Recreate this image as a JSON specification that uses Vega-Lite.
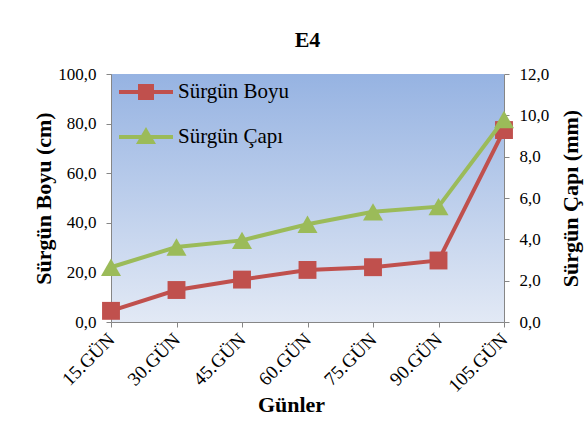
{
  "$schema": "https://vega.github.io/schema/vega-lite/v6.json",
  "width": 393,
  "height": 248,
  "autosize": {"type": "none"},
  "padding": {"left": 111, "top": 74, "right": 81, "bottom": 99},
  "background": "white",
  "title": {"text": "E4", "font": "Liberation Serif", "fontSize": 22, "fontWeight": "bold", "color": "#000000", "offset": 13, "anchor": "middle"},
  "data": {
    "values": [
      {"gun": "15.GÜN", "boy": 4.5, "cap": 2.65},
      {"gun": "30.GÜN", "boy": 12.9, "cap": 3.63},
      {"gun": "45.GÜN", "boy": 17.1, "cap": 3.95},
      {"gun": "60.GÜN", "boy": 21.0, "cap": 4.73},
      {"gun": "75.GÜN", "boy": 22.1, "cap": 5.33},
      {"gun": "90.GÜN", "boy": 24.8, "cap": 5.58},
      {"gun": "105.GÜN", "boy": 77.4, "cap": 9.8}
    ]
  },
  "encoding": {
    "x": {
      "field": "gun", "type": "ordinal", "sort": null,
      "scale": {"type": "point", "padding": 0},
      "axis": {
        "title": "Günler", "titleFont": "Liberation Serif", "titleFontSize": 22, "titleFontWeight": "bold", "titleColor": "#000000",
        "titleX": 180, "titleY": 89, "titleBaseline": "alphabetic", "titleAnchor": "middle", "titleAlign": "center",
        "labelAngle": -45, "labelAlign": "right", "labelBaseline": "middle", "labelFont": "Liberation Serif", "labelFontSize": 19, "labelColor": "#000000", "labelPadding": 9, "labelDx": 4,
        "tickSize": 5, "domainColor": "#868686", "tickColor": "#868686", "grid": false
      }
    }
  },
  "layer": [
    {
      "layer": [
        {
          "mark": {"type": "line", "strokeWidth": 4},
          "encoding": {
            "y": {"field": "boy", "type": "quantitative", "scale": {"domain": [0, 100], "nice": false},
              "axis": {"orient": "left", "values": [0, 20, 40, 60, 80, 100], "labelExpr": "replace(format(datum.value, '.1f'), '.', ',')",
                "title": "Sürgün Boyu (cm)", "titleFont": "Liberation Serif", "titleFontSize": 22, "titleFontWeight": "bold", "titleColor": "#000000", "titlePadding": 2,
                "labelFont": "Liberation Serif", "labelFontSize": 17, "labelColor": "#000000", "labelPadding": 10, "tickSize": 5,
                "domainColor": "#868686", "tickColor": "#868686", "grid": false}},
            "color": {"datum": "Sürgün Boyu", "type": "nominal",
              "scale": {"domain": ["Sürgün Boyu", "Sürgün Çapı"], "range": ["#c0504d", "#9bbb59"]},
              "legend": {
                "title": null, "orient": "top-left", "offset": 6, "labelFont": "Liberation Serif", "labelFontSize": 21, "labelColor": "#000000",
                "symbolSize": 400, "symbolStrokeWidth": 4, "labelOffset": 37, "rowPadding": 17,
                "encode": {
                  "symbols": {"update": {
                    "shape": {"signal": "datum.value === 'Sürgün Boyu' ? 'M-1,0H4.4M1.1,-0.6H2.3V0.6H1.1Z' : 'M-1,0H4.4M1.7,-0.6L2.35,0.5H1.05Z'"},
                    "fill": {"scale": "color", "field": "value"},
                    "stroke": {"scale": "color", "field": "value"},
                    "strokeWidth": {"value": 4}
                  }},
                  "labels": {"update": {"font": {"value": "Liberation Serif"}, "fontSize": {"value": 21}, "fill": {"value": "#000000"}}}
                }
              }
            }
          }
        },
        {
          "mark": {"type": "point", "shape": "square", "filled": true, "size": 320, "opacity": 1, "color": "#c0504d"},
          "encoding": {"y": {"field": "boy", "type": "quantitative"}}
        }
      ]
    },
    {
      "layer": [
        {
          "mark": {"type": "line", "strokeWidth": 4},
          "encoding": {
            "y": {"field": "cap", "type": "quantitative", "scale": {"domain": [0, 12], "nice": false},
              "axis": {"orient": "right", "values": [0, 2, 4, 6, 8, 10, 12], "labelExpr": "replace(format(datum.value, '.1f'), '.', ',')",
                "title": "Sürgün Çapı (mm)", "titleFont": "Liberation Serif", "titleFontSize": 22, "titleFontWeight": "bold", "titleColor": "#000000",
                "titleAngle": 270, "titleBaseline": "top", "titlePadding": 12,
                "labelFont": "Liberation Serif", "labelFontSize": 17, "labelColor": "#000000", "labelPadding": 10, "tickSize": 5,
                "domainColor": "#868686", "tickColor": "#868686", "grid": false}},
            "color": {"datum": "Sürgün Çapı", "type": "nominal"}
          }
        },
        {
          "mark": {"type": "point", "shape": "triangle-up", "filled": true, "size": 400, "opacity": 1, "color": "#9bbb59"},
          "encoding": {"y": {"field": "cap", "type": "quantitative"}}
        }
      ]
    }
  ],
  "resolve": {"scale": {"y": "independent"}},
  "config": {
    "view": {"stroke": null, "fill": {"gradient": "linear", "x1": 0, "y1": 0, "x2": 0, "y2": 1, "stops": [{"offset": 0, "color": "#96b3e2"}, {"offset": 1, "color": "#e2e9f5"}]}},
    "axis": {"domainWidth": 1, "tickWidth": 1, "labelFont": "Liberation Serif", "titleFont": "Liberation Serif"},
    "legend": {"labelFont": "Liberation Serif", "labelFontSize": 21, "labelColor": "#000000"}
  }
}
